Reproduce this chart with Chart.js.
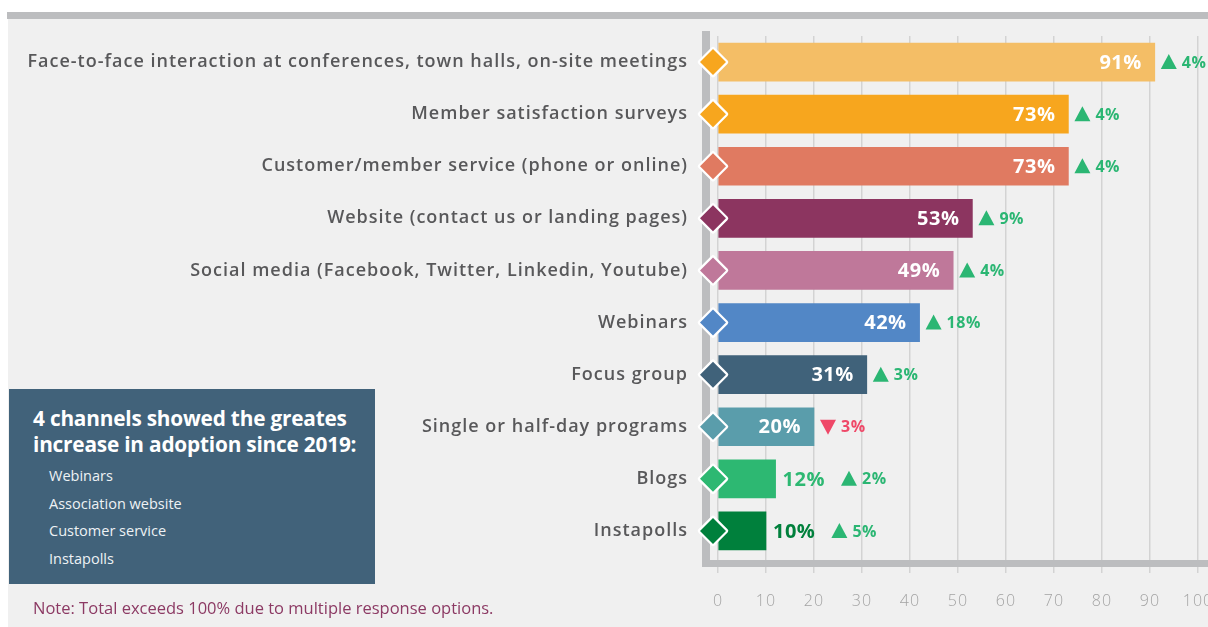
<!DOCTYPE html>
<html>
<head>
<meta charset="utf-8">
<script src="https://cdn.jsdelivr.net/npm/chart.js"></script>
<style>
  html, body { margin: 0; padding: 0; background: #ffffff; overflow: hidden; }
  body { width: 1208px; height: 627px; position: relative; }
  #panel { position: absolute; left: 8px; top: 12px; right: 0; bottom: 0; background: #f0f0f0; }
  #band { position: absolute; left: 7px; top: 12px; right: 0; height: 7px; background: #bcbdbf; }
  #chart { position: absolute; left: 0; top: 0; }
  #callout { position: absolute; left: 9px; top: 389px; width: 366px; height: 195px; background: #41627a; color: #fff; font-family: "Open Sans", sans-serif; }
  #callout h2 { position: absolute; left: 24px; top: 16px; margin: 0; font-size: 20.8px; line-height: 26px; font-weight: 700; letter-spacing: -0.2px; white-space: nowrap; }
  #callout ul { position: absolute; left: 40px; top: 73px; margin: 0; padding: 0; list-style: none; font-size: 14.5px; line-height: 27.5px; color: #eef2f5; }
  #note { position: absolute; left: 33px; top: 596px; font-family: "Open Sans", sans-serif; font-size: 16.5px; color: #8c3a64; white-space: nowrap; }
</style>
</head>
<body>
<div id="panel"></div>
<div id="band"></div>
<canvas id="chart" width="1240" height="627"></canvas>
<div id="callout">
  <h2>4 channels showed the greates<br>increase in adoption since 2019:</h2>
  <ul>
    <li>Webinars</li>
    <li>Association website</li>
    <li>Customer service</li>
    <li>Instapolls</li>
  </ul>
</div>
<div id="note">Note: Total exceeds 100% due to multiple response options.</div>
<script>
// channels, share of respondents using them, and change since 2019 (points)
const channels = [
  'Face-to-face interaction at conferences, town halls, on-site meetings',
  'Member satisfaction surveys',
  'Customer/member service (phone or online)',
  'Website (contact us or landing pages)',
  'Social media (Facebook, Twitter, Linkedin, Youtube)',
  'Webinars',
  'Focus group',
  'Single or half-day programs',
  'Blogs',
  'Instapolls'
];
const shares = [91, 73, 73, 53, 49, 42, 31, 20, 12, 10];
const changes = [4, 4, 4, 9, 4, 18, 3, -3, 2, 5];
const xTickValues = [0, 10, 20, 30, 40, 50, 60, 70, 80, 90, 100];

const barColors = ['#f4be66', '#f7a61e', '#e07a61', '#8c3560', '#bf789a', '#5287c6', '#40627a', '#5a9dab', '#2db872', '#00803c'];
const markerColors = ['#f7a61e', '#f7a61e', '#e07a61', '#8c3560', '#bf789a', '#5287c6', '#40627a', '#5a9dab', '#2db872', '#00803c'];

const UP = '#2bb673';
const DOWN = '#ef4868';
const AXIS_GREY = '#bcbdbf';

// wide letter spacing for all canvas text (axis labels included)
const spacing = {
  id: 'spacing',
  beforeDraw(chart) { chart.ctx.letterSpacing = '1px'; }
};

// thick axis lines sit over the grid but under the bars
const axisLines = {
  id: 'axisLines',
  beforeDatasetsDraw(chart) {
    const ctx = chart.ctx;
    const area = chart.chartArea;
    ctx.save();
    ctx.fillStyle = AXIS_GREY;
    ctx.fillRect(area.left - 16, 31, 8, area.bottom + 10 - 31);
    ctx.fillRect(area.left - 16, area.bottom + 3, 1240, 7);
    ctx.restore();
  }
};

// diamonds at the bar base, value labels and change markers
const barDecor = {
  id: 'barDecor',
  afterDatasetsDraw(chart) {
    const ctx = chart.ctx;
    const meta = chart.getDatasetMeta(0);
    ctx.save();
    ctx.letterSpacing = '0.5px';
    meta.data.forEach((bar, i) => {
      const y = bar.y;
      const end = bar.x;

      // diamond marker
      const cx = chart.chartArea.left - 5;
      const r = 13;
      ctx.beginPath();
      ctx.moveTo(cx, y - r);
      ctx.lineTo(cx + r, y);
      ctx.lineTo(cx, y + r);
      ctx.lineTo(cx - r, y);
      ctx.closePath();
      ctx.lineJoin = 'round';
      ctx.lineWidth = 4.5;
      ctx.strokeStyle = '#ffffff';
      ctx.stroke();
      ctx.fillStyle = markerColors[i];
      ctx.fill();

      // value label
      const text = shares[i] + '%';
      ctx.font = '700 20px "Open Sans", sans-serif';
      ctx.textBaseline = 'middle';
      let after;
      if (shares[i] >= 20) {
        ctx.textAlign = 'right';
        ctx.fillStyle = '#ffffff';
        ctx.fillText(text, end - 13, y + 1);
        after = end + 6;
      } else {
        ctx.textAlign = 'left';
        ctx.fillStyle = barColors[i];
        ctx.fillText(text, end + 7, y + 1);
        after = end + 7 + ctx.measureText(text).width + 16;
      }

      // change since 2019
      const up = changes[i] >= 0;
      const col = up ? UP : DOWN;
      ctx.fillStyle = col;
      ctx.beginPath();
      if (up) {
        ctx.moveTo(after + 8, y - 8);
        ctx.lineTo(after + 16, y + 7);
        ctx.lineTo(after, y + 7);
      } else {
        ctx.moveTo(after, y - 7);
        ctx.lineTo(after + 16, y - 7);
        ctx.lineTo(after + 8, y + 8);
      }
      ctx.closePath();
      ctx.fill();
      ctx.font = '700 16px "Open Sans", sans-serif';
      ctx.textAlign = 'left';
      ctx.fillText(Math.abs(changes[i]) + '%', after + 21, y + 1);
    });
    ctx.restore();
  }
};

new Chart(document.getElementById('chart'), {
  type: 'bar',
  data: {
    labels: channels,
    datasets: [{
      data: shares,
      backgroundColor: barColors,
      barThickness: 38,
      borderWidth: 0
    }]
  },
  options: {
    indexAxis: 'y',
    responsive: false,
    animation: false,
    layout: { padding: { top: 36, right: 42 } },
    plugins: { legend: { display: false }, tooltip: { enabled: false } },
    scales: {
      x: {
        min: 0,
        max: 100,
        afterBuildTicks(scale) {
          scale.ticks = xTickValues.map(v => ({ value: v }));
        },
        afterFit(scale) { scale.height = 70; },
        grid: { color: '#d3d3d3', lineWidth: 1.5, tickLength: 16 },
        border: { display: false },
        ticks: {
          padding: 19,
          color: '#a3a3a3',
          font: { family: '"Open Sans", sans-serif', size: 16, weight: 300 }
        }
      },
      y: {
        afterFit(scale) {
          scale.width = 718;
          scale.paddingTop = 0;
          scale.paddingBottom = 0;
        },
        grid: { display: false, drawTicks: false },
        border: { display: false },
        ticks: {
          padding: 30,
          color: '#58585a',
          font: { family: '"Open Sans", sans-serif', size: 18, weight: 600 }
        }
      }
    }
  },
  plugins: [spacing, axisLines, barDecor]
});
</script>
</body>
</html>
